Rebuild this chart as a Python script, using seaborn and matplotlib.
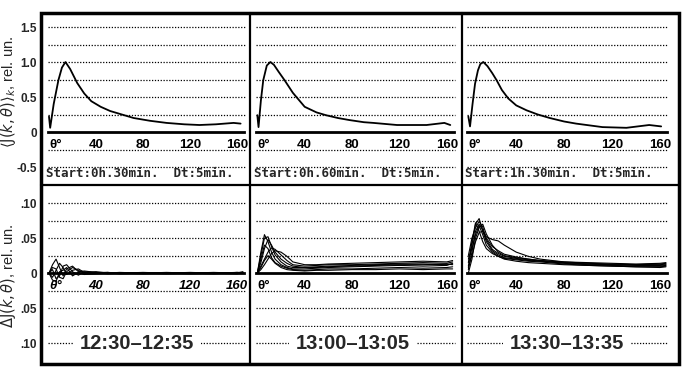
import numpy as np
import pandas as pd
import seaborn as sns
from matplotlib import pyplot as plt
from matplotlib.patches import Rectangle
from matplotlib.lines import Line2D

sns.set_style("white")
plt.rcParams['font.family'] = ['Liberation Sans', 'DejaVu Sans']

# ---- data ----
# top row: averaged curves <J(k,theta)>_k
top_theta = [
    [0, 1, 4, 8, 11, 14, 18, 24, 30, 36, 44, 52, 60, 72, 86, 100, 115, 128, 142, 157, 163],
    [0, 1, 3, 5, 8, 11, 14, 18, 23, 30, 40, 50, 58, 68, 78, 90, 98, 118, 143, 158, 163],
    [0, 1.4, 3.5, 5.6, 8, 10, 12.5, 16, 20, 23.6, 28, 33.3, 40, 48.6, 58, 68, 80, 90, 112, 132, 151, 161],
]
top_vals = [
    [0.22, 0.06, 0.40, 0.74, 0.92, 1.00, 0.90, 0.70, 0.55, 0.44, 0.36, 0.30, 0.26, 0.20, 0.16, 0.13, 0.11, 0.10, 0.11, 0.13, 0.12],
    [0.24, 0.07, 0.45, 0.74, 0.95, 1.00, 0.96, 0.86, 0.74, 0.56, 0.36, 0.28, 0.24, 0.20, 0.17, 0.14, 0.13, 0.10, 0.10, 0.13, 0.10],
    [0.22, 0.08, 0.40, 0.69, 0.88, 0.97, 1.00, 0.94, 0.84, 0.74, 0.60, 0.48, 0.38, 0.31, 0.25, 0.20, 0.15, 0.12, 0.07, 0.06, 0.10, 0.08],
]
start_labels = ["Start:0h.30min.  Dt:5min.",
                "Start:0h.60min.  Dt:5min.",
                "Start:1h.30min.  Dt:5min."]

# bottom row: ensembles of dJ(k,theta)
bot_theta = [0, 3, 6, 9, 12, 15, 20, 25, 30, 40, 50, 60, 80, 100, 120, 140, 160, 165]
dj_1230 = [
    [0, 0.012, 0.020, 0.008, -0.004, 0.006, 0.010, 0.002, 0.003, 0.001, 0.001, 0.000, 0.001, 0.000, 0.001, 0.000, 0.001, 0.001],
    [0, -0.006, 0.004, 0.014, 0.008, -0.002, 0.004, 0.006, 0.001, 0.002, 0.000, 0.001, 0.000, 0.001, 0.000, 0.001, 0.000, 0.002],
    [0, 0.005, -0.008, -0.004, 0.010, 0.012, 0.002, -0.003, 0.002, 0.000, 0.001, -0.001, 0.000, 0.000, -0.001, 0.000, 0.000, 0.001],
    [0, -0.010, -0.012, 0.002, 0.004, 0.008, -0.004, 0.001, -0.002, -0.001, 0.000, 0.000, -0.001, 0.000, 0.000, -0.001, 0.001, 0.000],
    [0, 0.008, 0.006, -0.006, -0.008, 0.002, 0.008, 0.004, 0.000, 0.001, -0.001, 0.000, 0.000, -0.001, 0.000, 0.000, -0.001, 0.001],
]
dj_1300 = [
    [0, 0.030, 0.055, 0.045, 0.030, 0.020, 0.012, 0.008, 0.006, 0.006, 0.007, 0.008, 0.009, 0.010, 0.011, 0.010, 0.011, 0.014],
    [0, 0.015, 0.035, 0.048, 0.040, 0.030, 0.020, 0.014, 0.010, 0.008, 0.009, 0.010, 0.010, 0.011, 0.012, 0.012, 0.013, 0.012],
    [0, 0.010, 0.020, 0.030, 0.036, 0.034, 0.026, 0.018, 0.012, 0.010, 0.011, 0.012, 0.012, 0.013, 0.014, 0.015, 0.014, 0.016],
    [0, 0.020, 0.040, 0.035, 0.022, 0.015, 0.010, 0.007, 0.005, 0.004, 0.005, 0.006, 0.006, 0.007, 0.008, 0.007, 0.008, 0.009],
    [0, 0.005, 0.012, 0.020, 0.028, 0.032, 0.030, 0.024, 0.016, 0.012, 0.012, 0.013, 0.014, 0.015, 0.016, 0.017, 0.016, 0.018],
    [0, 0.008, 0.018, 0.025, 0.020, 0.014, 0.008, 0.005, 0.004, 0.003, 0.004, 0.004, 0.005, 0.005, 0.006, 0.005, 0.006, 0.006],
    [0, 0.025, 0.050, 0.052, 0.038, 0.026, 0.016, 0.010, 0.008, 0.008, 0.008, 0.009, 0.011, 0.012, 0.013, 0.013, 0.012, 0.013],
]
dj_1330 = [
    [0.010, 0.040, 0.070, 0.078, 0.060, 0.045, 0.032, 0.026, 0.022, 0.020, 0.018, 0.017, 0.014, 0.012, 0.011, 0.010, 0.010, 0.011],
    [0.005, 0.030, 0.060, 0.070, 0.062, 0.052, 0.048, 0.046, 0.040, 0.030, 0.024, 0.020, 0.016, 0.014, 0.013, 0.012, 0.012, 0.013],
    [0.020, 0.035, 0.055, 0.068, 0.055, 0.040, 0.030, 0.024, 0.020, 0.017, 0.015, 0.014, 0.012, 0.011, 0.010, 0.009, 0.009, 0.010],
    [0.000, 0.020, 0.050, 0.065, 0.070, 0.056, 0.040, 0.030, 0.025, 0.022, 0.020, 0.018, 0.015, 0.013, 0.012, 0.011, 0.011, 0.012],
    [0.015, 0.045, 0.072, 0.060, 0.045, 0.035, 0.028, 0.024, 0.021, 0.019, 0.017, 0.016, 0.013, 0.011, 0.010, 0.009, 0.008, 0.009],
    [0.008, 0.025, 0.045, 0.058, 0.060, 0.050, 0.038, 0.032, 0.027, 0.023, 0.020, 0.018, 0.016, 0.015, 0.014, 0.013, 0.014, 0.015],
    [0.025, 0.050, 0.065, 0.074, 0.066, 0.048, 0.034, 0.028, 0.024, 0.021, 0.019, 0.017, 0.015, 0.013, 0.012, 0.012, 0.013, 0.014],
]
bot_sets = [dj_1230, dj_1300, dj_1330]
bot_titles = ["12:30\u201312:35", "13:00\u201313:05", "13:30\u201313:35"]

top_yticks = [1.5, 1.0, 0.5, 0, -0.5]
top_ylabels = ["1.5", "1.0", "0.5", "0", "-0.5"]
bot_yticks = [0.10, 0.05, 0, -0.05, -0.10]
bot_ylabels = [".10", ".05", "0", ".05", ".10"]
top_grid = [1.5, 1.25, 1.0, 0.75, 0.5, 0.25, -0.25, -0.5]
bot_grid = [0.10, 0.075, 0.05, 0.025, -0.025, -0.05, -0.075, -0.10]
xtick_vals = [0, 40, 80, 120, 160]
xtick_labels = ["\u03b8\u00b0", "40", "80", "120", "160"]

# ---- layout (pixels) ----
W, H = 682, 368
fig = plt.figure(figsize=(W / 100, H / 100), dpi=100)


def box(x0, y0, x1, y1):
    return [x0 / W, 1 - y1 / H, (x1 - x0) / W, (y1 - y0) / H]


cols = [(41, 250), (250, 462), (462, 679)]
rows = [(13, 185), (185, 364)]
xlims = [(-6.8, 171), (-6.2, 172.9), (-5.3, 175.9)]
title_x = [75, 81, 82]
dots = (0, (1, 1.3))


def style_axis(ax, col, yt, ylab, grid, ylim):
    ax.set_facecolor("none")
    ax.set_xlim(*xlims[col])
    ax.set_ylim(*ylim)
    ax.hlines(grid, -1, 167, colors="k", linestyles=dots, lw=0.9, zorder=1)
    for s in ["left", "right", "top"]:
        ax.spines[s].set_visible(False)
    ax.spines["bottom"].set_position(("data", 0))
    ax.spines["bottom"].set_linewidth(2)
    ax.spines["bottom"].set_color("k")
    ax.spines["bottom"].set_bounds(-1, 166)
    ax.set_xticks(xtick_vals)
    ax.set_xticklabels(xtick_labels, fontsize=9.5, fontweight="bold")
    ax.xaxis.get_majorticklabels()[0].set_ha("left")
    ax.set_xticks(np.arange(0, 161, 10), minor=True)
    ax.tick_params(axis="x", which="major", direction="inout", length=8, width=1.2, pad=1, colors="k")
    ax.tick_params(axis="x", which="minor", direction="inout", length=6, width=1.0, colors="k")
    ax.set_yticks(yt)
    if col == 0:
        ax.set_yticklabels(ylab, fontsize=8.5, fontweight="bold")
    else:
        ax.set_yticklabels([])
    ax.tick_params(axis="y", length=0, pad=3)
    ax.set_xlabel("")
    ax.set_ylabel("")


for c in range(3):
    # top row
    ax = fig.add_axes(box(cols[c][0], rows[0][0], cols[c][1], rows[0][1]))
    sns.lineplot(x=top_theta[c], y=top_vals[c], sort=False, ax=ax, color="k", lw=1.3, zorder=3)
    style_axis(ax, c, top_yticks, top_ylabels, top_grid, (-0.757, 1.70))
    ax.text(-2.5, -0.595, start_labels[c], family=["DejaVu Sans Mono"], fontweight="bold",
            fontsize=9, ha="left", va="center")

    # bottom row
    ax = fig.add_axes(box(cols[c][0], rows[1][0], cols[c][1], rows[1][1]))
    df = pd.DataFrame([(i, t, v) for i, curve in enumerate(bot_sets[c])
                       for t, v in zip(bot_theta, curve)],
                      columns=["curve", "theta", "dj"])
    sns.lineplot(data=df, x="theta", y="dj", units="curve", estimator=None,
                 ax=ax, color="k", lw=0.8, zorder=3)
    style_axis(ax, c, bot_yticks, bot_ylabels, bot_grid, (-0.13, 0.126))
    if c == 0:
        for lab in ax.get_xticklabels():
            lab.set_style("italic")
    ax.text(title_x[c], -0.10, bot_titles[c], fontsize=14.5, fontweight="bold",
            ha="center", va="center", zorder=4,
            bbox=dict(fc="white", ec="none", pad=5))

# frames
fig.add_artist(Rectangle((41 / W, 1 - 364 / H), (679 - 41) / W, (364 - 13) / H,
                         transform=fig.transFigure, fill=False, ec="k", lw=2.5))
for xp in [250, 462]:
    fig.add_artist(Line2D([xp / W, xp / W], [1 - 364 / H, 1 - 13 / H], color="k", lw=1.6))
fig.add_artist(Line2D([41 / W, 679 / W], [1 - 185 / H, 1 - 185 / H], color="k", lw=1.6))

# y axis titles
fig.text(8.5 / W, 1 - 92 / H, r"$\langle \mathrm{J}(k,\theta)\rangle_k$, rel. un.",
         rotation=90, ha="center", va="center", fontsize=10.5)
fig.text(8.5 / W, 1 - 276 / H, r"$\Delta\mathrm{J}(k,\theta)$, rel. un.",
         rotation=90, ha="center", va="center", fontsize=10.5)

plt.savefig("out.png", dpi=100)
